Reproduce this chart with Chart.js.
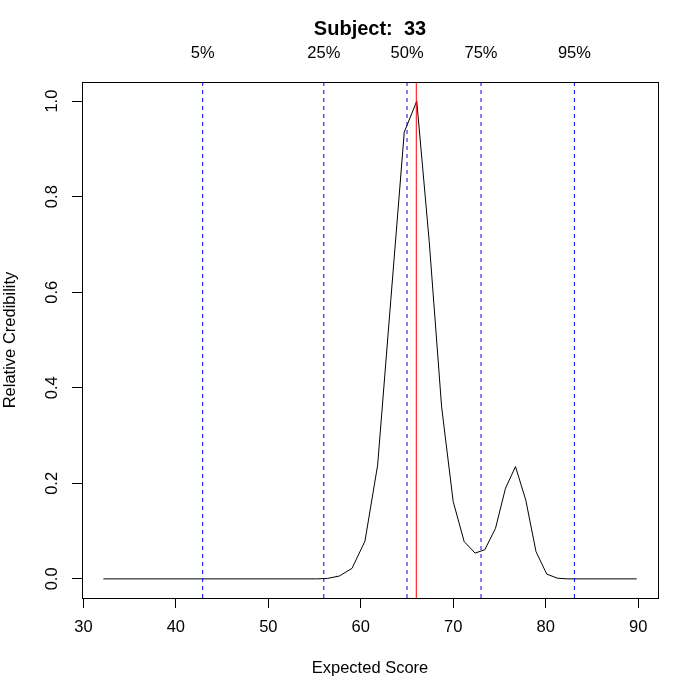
<!DOCTYPE html>
<html>
<head>
<meta charset="utf-8">
<title>Subject 33</title>
<script src="https://cdn.jsdelivr.net/npm/chart.js@4.4.0/dist/chart.umd.min.js"></script>
<style>
  body { margin:0; background:#fff; }
  #wrap { width:700px; height:700px; }
</style>
</head>
<body>
<div id="wrap"><canvas id="credChart" width="700" height="700"></canvas></div>
<script>
// expected score grid and relative credibility
var score = [32.16, 55.2, 56.4, 57.68, 59.05, 60.45, 61.82, 63.25, 64.70, 66.05,
             67.40, 68.74, 69.99, 71.18, 72.36, 73.41, 74.57, 75.65, 76.73, 77.84,
             78.95, 80.11, 81.26, 82.4, 89.83];
var credibility = [0, 0, 0.001, 0.006, 0.022, 0.079, 0.238, 0.585, 0.935, 1.0,
                   0.706, 0.360, 0.162, 0.078, 0.054, 0.061, 0.106, 0.190, 0.235, 0.165,
                   0.057, 0.010, 0.0015, 0, 0];

var quantile_value = [42.9, 56.0, 65.0, 73.0, 83.1];
var quantile_label = ["5%", "25%", "50%", "75%", "95%"];
var mode_value = 66.0;

var x_ticks = [30, 40, 50, 60, 70, 80, 90];
var y_ticks = [0, 0.2, 0.4, 0.6, 0.8, 1.0];
var x_range = [29.85, 92.14];
var y_range = [-0.04, 1.04];

var rFont = "'Liberation Sans', Arial, Helvetica, sans-serif";

function vLine(xv, color, dash) {
  return {
    data: [{x: xv, y: y_range[0]}, {x: xv, y: y_range[1]}],
    borderColor: color,
    borderWidth: 1,
    borderDash: dash,
    pointRadius: 0,
    showLine: true
  };
}

// draws the R style box round the plot region
var boxPlugin = {
  id: 'rBox',
  afterDraw: function(chart) {
    var a = chart.chartArea;
    var ctx = chart.ctx;
    ctx.save();
    ctx.strokeStyle = "#000";
    ctx.lineWidth = 1;
    ctx.strokeRect(Math.round(a.left) + 0.5, Math.round(a.top) + 0.5,
                   Math.round(a.right - a.left), Math.round(a.bottom - a.top));
    ctx.restore();
  }
};

function drawChart() {
  var curve = [];
  for (var i = 0; i < score.length; i++) {
    curve.push({x: score[i], y: credibility[i]});
  }

  var sets = [];
  for (var j = 0; j < quantile_value.length; j++) {
    sets.push(vLine(quantile_value[j], "#0000ff", [4, 4]));
  }
  sets.push(vLine(mode_value, "#ff0000", []));
  sets.push({
    data: curve,
    borderColor: "#000",
    borderWidth: 1,
    pointRadius: 0,
    showLine: true,
    tension: 0
  });

  var options = {
    responsive: false,
    animation: false,
    layout: { padding: { left: 0, right: 42, top: 0, bottom: 0 } },
    plugins: {
      legend: { display: false },
      tooltip: { enabled: false }
    },
    scales: {
      x: {
        type: 'linear',
        position: 'bottom',
        min: x_range[0],
        max: x_range[1],
        afterBuildTicks: function(scale) {
          scale.ticks = x_ticks.map(function(v) { return {value: v}; });
        },
        afterFit: function(scale) { scale.height = 102; },
        grid: { drawOnChartArea: false, tickLength: 10, color: "#000" },
        border: { display: false },
        ticks: {
          color: "#000",
          padding: 10,
          font: { family: rFont, size: 16.5 },
          maxRotation: 0,
          callback: function(v) { return v; }
        },
        title: {
          display: true,
          text: "Expected Score",
          color: "#000",
          font: { family: rFont, size: 16.5 },
          padding: { top: 0, bottom: 22 }
        }
      },
      // top axis carries the quantile labels and the main title (centred on the plot like R)
      x2: {
        type: 'linear',
        position: 'top',
        min: x_range[0],
        max: x_range[1],
        afterBuildTicks: function(scale) {
          scale.ticks = quantile_value.map(function(v) { return {value: v}; });
        },
        afterFit: function(scale) { scale.height = 82; },
        grid: { display: false, drawTicks: false },
        border: { display: false },
        ticks: {
          color: "#000",
          padding: 19,
          font: { family: rFont, size: 16.5 },
          maxRotation: 0,
          callback: function(v, idx) { return quantile_label[idx]; }
        },
        title: {
          display: true,
          text: "Subject:  33",
          color: "#000",
          font: { family: rFont, size: 20, weight: "bold" },
          padding: { top: 17, bottom: 0 }
        }
      },
      y: {
        type: 'linear',
        position: 'left',
        min: y_range[0],
        max: y_range[1],
        afterBuildTicks: function(scale) {
          scale.ticks = y_ticks.map(function(v) { return {value: v}; });
        },
        afterFit: function(scale) { scale.width = 82; },
        grid: { drawOnChartArea: false, tickLength: 10, color: "#000" },
        border: { display: false },
        ticks: {
          color: "#000",
          padding: 8,
          crossAlign: 'center',
          minRotation: 90,
          maxRotation: 90,
          font: { family: rFont, size: 16.5 },
          callback: function(v) { return v.toFixed(1); }
        },
        title: {
          display: true,
          text: "Relative Credibility",
          color: "#000",
          font: { family: rFont, size: 16.5 },
          padding: { top: 1, bottom: 0 }
        }
      }
    }
  };//end options

  var ctx = document.getElementById("credChart");
  var chart = new Chart(ctx, {
    type: 'scatter',
    data: { datasets: sets },
    options: options,
    plugins: [boxPlugin]
  });
}

drawChart();
</script>
</body>
</html>
